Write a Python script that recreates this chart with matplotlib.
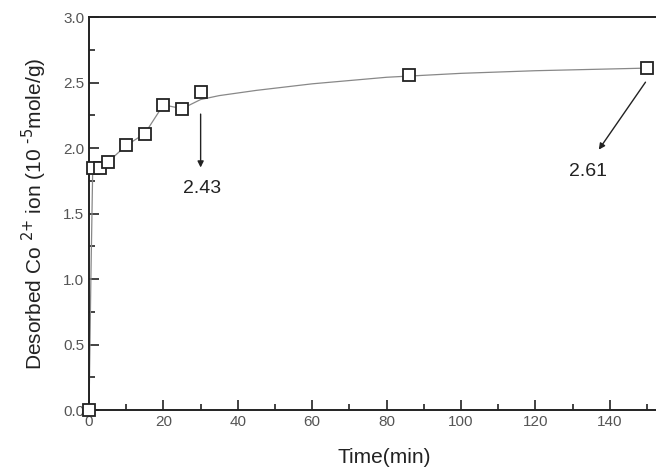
import numpy as np
import matplotlib.pyplot as plt
from matplotlib.ticker import MultipleLocator

plt.rcParams['font.family'] = ['Liberation Sans', 'DejaVu Sans']

# measured points
time_min = [0, 1, 3, 5, 10, 15, 20, 25, 30, 86, 150]
desorbed = [0.0, 1.85, 1.85, 1.89, 2.02, 2.11, 2.33, 2.30, 2.43, 2.56, 2.61]

# guide curve
curve_t = [0, 0.5, 1, 3, 5, 10, 15, 20, 25, 30, 35, 45, 60, 80, 100, 120, 150]
curve_y = [0.0, 1.0, 1.85, 1.85, 1.89, 2.02, 2.11, 2.33, 2.30, 2.37, 2.40, 2.44, 2.49, 2.54, 2.57, 2.59, 2.61]

fig = plt.figure(figsize=(6.56, 4.75), dpi=100)
ax = fig.add_axes([0.1357, 0.1368, 0.8643, 0.8274])

ax.plot(curve_t, curve_y, color='#888888', lw=0.9, zorder=2)
ax.plot(time_min, desorbed, ls='none', marker='s', ms=8.5, mfc='white',
        mec='#222222', mew=1.3, zorder=3, clip_on=False)

arrow = dict(arrowstyle='-|>', color='#222222', lw=1.0, mutation_scale=9)
ax.annotate('', xy=(30, 1.83), xytext=(30, 2.28), arrowprops=arrow)
ax.text(30.5, 1.69, '2.43', ha='center', va='center', fontsize=14, color='#222222')
ax.annotate('', xy=(136.6, 1.97), xytext=(150, 2.52), arrowprops=arrow)
ax.text(134, 1.82, '2.61', ha='center', va='center', fontsize=14, color='#222222')

ax.set_xlim(0, 152.4)
ax.set_ylim(0, 3.0)
ax.xaxis.set_major_locator(MultipleLocator(20))
ax.xaxis.set_minor_locator(MultipleLocator(10))
ax.yaxis.set_major_locator(MultipleLocator(0.5))
ax.yaxis.set_minor_locator(MultipleLocator(0.25))
ax.yaxis.set_major_formatter(plt.FormatStrFormatter('%.1f'))
ax.tick_params(which='both', direction='in', top=False, right=False,
               colors='#222222', labelcolor='#555555', labelsize=11)
ax.tick_params(which='major', length=7, width=1.2)
ax.tick_params(which='minor', length=4, width=1.2)
ax.spines['right'].set_visible(False)
for s in ['left', 'bottom', 'top']:
    ax.spines[s].set_linewidth(1.4)
    ax.spines[s].set_color('#222222')

ax.set_xlabel('Time(min)', fontsize=15, color='#222222', labelpad=14, x=0.52)
ax.set_ylabel('Desorbed Co $^{2{+}}$ ion (10 $^{\\text{-5}}$mole/g)', fontsize=15,
              color='#222222', labelpad=10)

fig.savefig('out.png', dpi=100)
